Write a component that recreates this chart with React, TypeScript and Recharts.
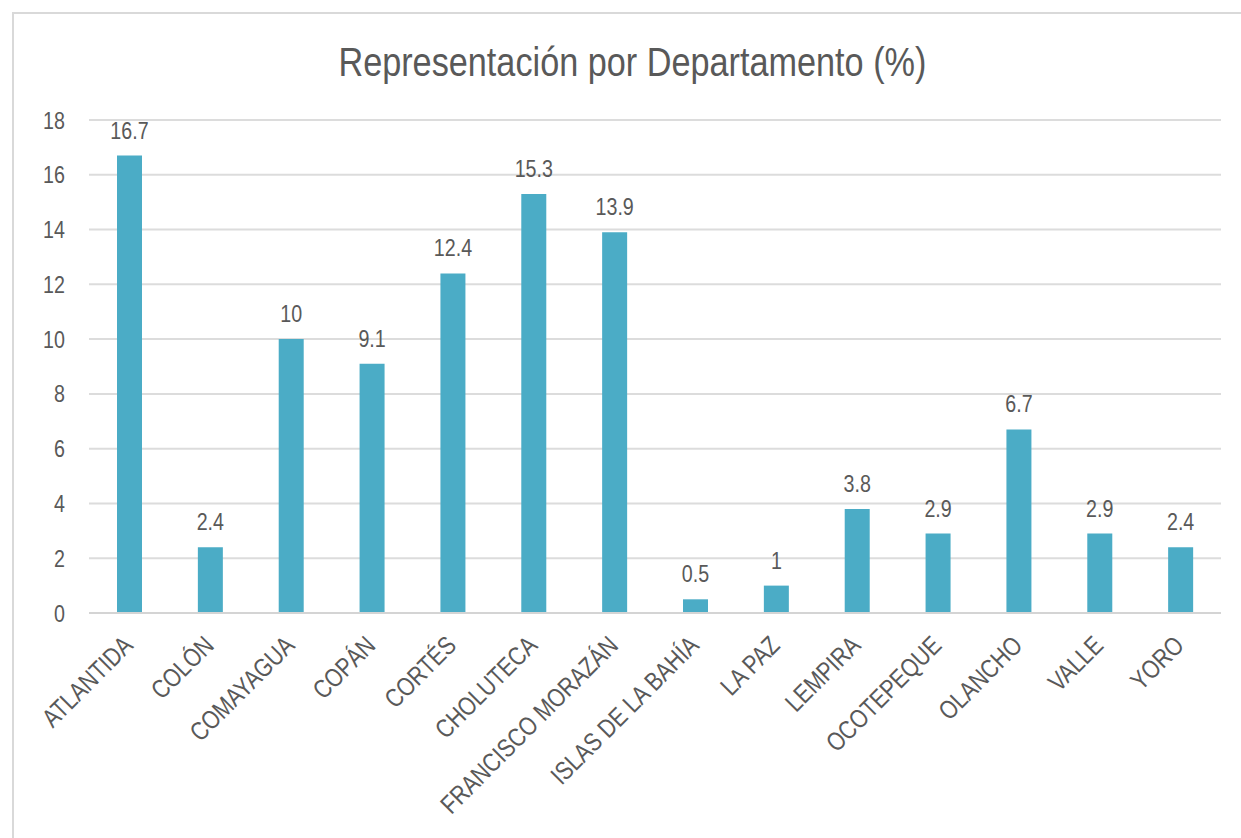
import React from "react";
import { BarChart, Bar, XAxis, YAxis, CartesianGrid, LabelList } from "recharts";

const departamentos = [
  "ATLANTIDA",
  "COLÓN",
  "COMAYAGUA",
  "COPÁN",
  "CORTÉS",
  "CHOLUTECA",
  "FRANCISCO MORAZÁN",
  "ISLAS DE LA BAHÍA",
  "LA PAZ",
  "LEMPIRA",
  "OCOTEPEQUE",
  "OLANCHO",
  "VALLE",
  "YORO",
];
const porcentajes = [16.7, 2.4, 10, 9.1, 12.4, 15.3, 13.9, 0.5, 1, 3.8, 2.9, 6.7, 2.9, 2.4];
const yTicks = [0, 2, 4, 6, 8, 10, 12, 14, 16, 18];
const titulo = "Representación por Departamento (%)";

const data = departamentos.map((d, i) => ({ name: d, value: porcentajes[i] }));

const FONT = '"Liberation Sans", Arial, sans-serif';
const GRAY = "#595959";
const NARROW = 0.82;

const XTick = (props: any) => {
  const { x, y, payload } = props;
  const ax = x + 5;
  const ay = y + 34;
  return (
    <text
      x={0}
      y={0}
      transform={`translate(${ax},${ay}) rotate(-45) scale(${NARROW},1)`}
      textAnchor="end"
      fill={GRAY}
      fontSize={26}
      fontFamily={FONT}
    >
      {payload.value}
    </text>
  );
};

const YTick = (props: any) => {
  const { x, y, payload } = props;
  return (
    <text
      x={0}
      y={0}
      dy="0.355em"
      transform={`translate(${x},${y}) scale(${NARROW},1)`}
      textAnchor="end"
      fill={GRAY}
      fontSize={24}
      fontFamily={FONT}
    >
      {payload.value}
    </text>
  );
};

const ValueLabel = (props: any) => {
  const { x, y, width, value } = props;
  const cx = Number(x) + Number(width) / 2;
  const cy = Number(y) - 17;
  return (
    <text
      x={0}
      y={0}
      transform={`translate(${cx},${cy}) scale(${NARROW},1)`}
      textAnchor="middle"
      fill={GRAY}
      fontSize={24}
      fontFamily={FONT}
    >
      {value}
    </text>
  );
};

export default function App() {
  return (
    <div
      style={{
        position: "absolute",
        left: 0,
        top: 0,
        width: 1241,
        height: 838,
        background: "#fff",
        overflow: "hidden",
      }}
    >
      <div
        style={{
          position: "absolute",
          left: 12,
          top: 12,
          width: 1241,
          height: 838,
          borderTop: "2px solid #d9d9d9",
          borderLeft: "2px solid #d9d9d9",
        }}
      />
      <div
        style={{
          position: "absolute",
          left: 0,
          width: 1265,
          top: 38,
          textAlign: "center",
          fontFamily: FONT,
          fontSize: 41,
          color: GRAY,
          lineHeight: "48px",
          transform: "scaleX(0.835)",
          transformOrigin: "632px 0",
          whiteSpace: "nowrap",
        }}
      >
        {titulo}
      </div>
      <div style={{ position: "absolute", left: 0, top: 0 }}>
        <BarChart
          width={1241}
          height={838}
          data={data}
          margin={{ top: 120, right: 20, bottom: 25, left: 29 }}
          barCategoryGap={0}
        >
          <CartesianGrid vertical={false} stroke="#dcdcdc" strokeWidth={2} />
          <XAxis
            dataKey="name"
            interval={0}
            height={200}
            tickLine={false}
            tickSize={0}
            tickMargin={0}
            axisLine={{ stroke: "#d4d4d4", strokeWidth: 2 }}
            tick={<XTick />}
          />
          <YAxis
            domain={[0, 18]}
            ticks={yTicks}
            interval={0}
            width={60}
            axisLine={false}
            tickLine={false}
            tickSize={6}
            tickMargin={18}
            tick={<YTick />}
          />
          <Bar dataKey="value" fill="#4BACC6" barSize={25} isAnimationActive={false}>
            <LabelList dataKey="value" content={<ValueLabel />} />
          </Bar>
        </BarChart>
      </div>
    </div>
  );
}
